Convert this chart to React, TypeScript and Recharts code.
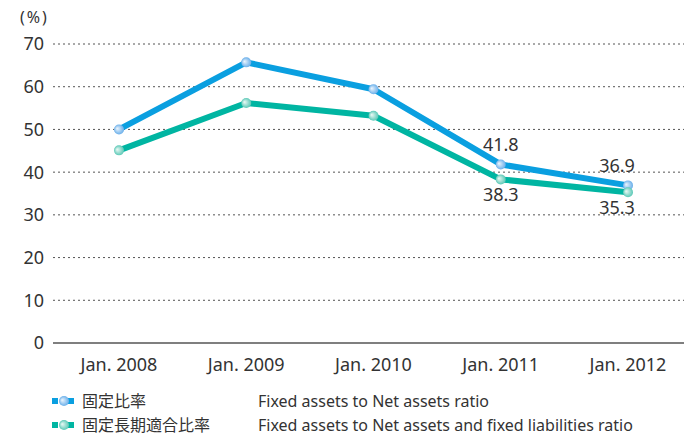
import { LineChart, Line, XAxis, YAxis, CartesianGrid, LabelList, ReferenceLine } from 'recharts';

const years = ['Jan. 2008', 'Jan. 2009', 'Jan. 2010', 'Jan. 2011', 'Jan. 2012'];
const fixedRatio = [50.0, 65.7, 59.4, 41.8, 36.9];
const longTermRatio = [45.1, 56.2, 53.2, 38.3, 35.3];
const yTicks = [0, 10, 20, 30, 40, 50, 60, 70];
const labeledFrom = 3;

const data = years.map((year, i) => ({
  year,
  fixed: fixedRatio[i],
  longTerm: longTermRatio[i],
}));

const BLUE = '#0a9fe0';
const GREEN = '#00b5a2';
const font = '"Noto Sans", "Noto Sans CJK JP", sans-serif';

const makeDot = (grad: string) => (props: any) => {
  const { cx, cy, index } = props;
  if (cx == null || cy == null) return <g key={index} />;
  return <circle key={index} cx={cx} cy={cy} r={5} fill={`url(#${grad})`} />;
};

const makeLabel = (above: boolean) => (props: any) => {
  const { x, y, value, index } = props;
  if (index < labeledFrom) return null;
  const dx = index === years.length - 1 ? -11 : 0;
  return (
    <text
      x={x + dx}
      y={above ? y - 13 : y + 22}
      textAnchor="middle"
      fontSize={18}
      fill="#333"
      fontFamily={font}
    >
      {Number(value).toFixed(1)}
    </text>
  );
};

function LegendIcon({ color, grad }: { color: string; grad: string }) {
  return (
    <svg width={24} height={12} style={{ marginRight: 6 }}>
      <rect x={0} y={3} width={6} height={6} fill={color} />
      <rect x={14} y={3} width={8} height={6} fill={color} />
      <circle cx={12} cy={6} r={5} fill={`url(#${grad})`} />
    </svg>
  );
}

export default function App() {
  return (
    <div style={{ position: 'fixed', left: 0, top: 0, width: 684, height: 436, background: '#fff', fontFamily: font }}>
      <svg width={0} height={0} style={{ position: 'absolute' }}>
        <defs>
          <radialGradient id="blueDot" cx="50%" cy="50%" r="50%" fx="30%" fy="40%">
            <stop offset="0%" stopColor="#eef6fd" />
            <stop offset="100%" stopColor="#6aafea" />
          </radialGradient>
          <radialGradient id="greenDot" cx="50%" cy="50%" r="50%" fx="30%" fy="40%">
            <stop offset="0%" stopColor="#eefaf6" />
            <stop offset="100%" stopColor="#5ac8b6" />
          </radialGradient>
        </defs>
      </svg>
      <div style={{ position: 'absolute', left: 20, top: 6, fontSize: 16, letterSpacing: 2, color: '#333' }}>(%)</div>
      <LineChart width={684} height={380} data={data} margin={{ top: 44, right: 0, left: 0, bottom: 0 }}>
        <CartesianGrid
          vertical={false}
          stroke="#555"
          strokeDasharray="2 3"
          horizontalValues={yTicks.filter((t) => t > 0)}
        />
        <XAxis
          dataKey="year"
          height={37}
          padding={{ left: 66, right: 56 }}
          axisLine={false}
          tickLine={false}
          tickMargin={9}
          tick={{ fontSize: 18, fill: '#333', fontFamily: font }}
        />
        <YAxis
          width={53}
          domain={[0, 70]}
          ticks={yTicks}
          axisLine={false}
          tickLine={false}
          tickMargin={3}
          tick={{ fontSize: 18, fill: '#333', fontFamily: font }}
        />
        <ReferenceLine y={0} stroke="#555" strokeWidth={1.5} />
        <Line
          dataKey="fixed"
          stroke={BLUE}
          strokeWidth={6}
          dot={makeDot('blueDot')}
          activeDot={false}
          isAnimationActive={false}
          strokeLinejoin="round"
        >
          <LabelList dataKey="fixed" content={makeLabel(true)} />
        </Line>
        <Line
          dataKey="longTerm"
          stroke={GREEN}
          strokeWidth={6}
          dot={makeDot('greenDot')}
          activeDot={false}
          isAnimationActive={false}
          strokeLinejoin="round"
        >
          <LabelList dataKey="longTerm" content={makeLabel(false)} />
        </Line>
      </LineChart>
      <div style={{ position: 'absolute', left: 52, top: 392, fontSize: 16, color: '#333', lineHeight: '18px' }}>
        <div style={{ display: 'flex', alignItems: 'center', marginBottom: 6 }}>
          <LegendIcon color={BLUE} grad="blueDot" />
          <span style={{ width: 176 }}>固定比率</span>
          <span>Fixed assets to Net assets ratio</span>
        </div>
        <div style={{ display: 'flex', alignItems: 'center' }}>
          <LegendIcon color={GREEN} grad="greenDot" />
          <span style={{ width: 176 }}>固定長期適合比率</span>
          <span>Fixed assets to Net assets and fixed liabilities ratio</span>
        </div>
      </div>
    </div>
  );
}
